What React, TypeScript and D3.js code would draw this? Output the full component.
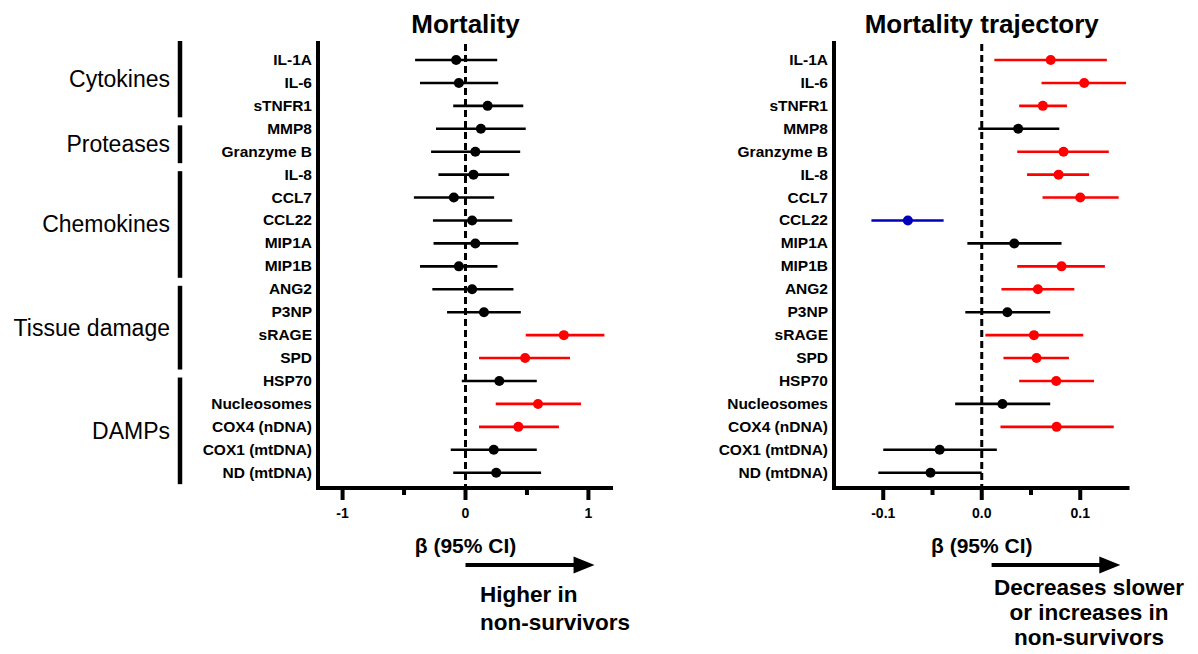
import React, { useEffect } from "react";
import * as d3 from "d3";

// biomarkers, top to bottom
const markers = [
  "IL-1A", "IL-6", "sTNFR1", "MMP8", "Granzyme B", "IL-8", "CCL7", "CCL22",
  "MIP1A", "MIP1B", "ANG2", "P3NP", "sRAGE", "SPD", "HSP70", "Nucleosomes",
  "COX4 (nDNA)", "COX1 (mtDNA)", "ND (mtDNA)",
];

// groups: label, first marker, last marker
const groupNames = ["Cytokines", "Proteases", "Chemokines", "Tissue damage", "DAMPs"];
const groupFirst = ["IL-1A", "MMP8", "IL-8", "ANG2", "HSP70"];
const groupLast = ["sTNFR1", "Granzyme B", "MIP1B", "SPD", "ND (mtDNA)"];

// Mortality: beta and 95% CI
const mortEst = [-0.076, -0.054, 0.18, 0.125, 0.08, 0.065, -0.095, 0.054, 0.08, -0.054, 0.054, 0.15, 0.8, 0.485, 0.275, 0.59, 0.43, 0.23, 0.25];
const mortLo = [-0.41, -0.37, -0.1, -0.24, -0.28, -0.22, -0.42, -0.265, -0.26, -0.37, -0.27, -0.15, 0.49, 0.11, -0.03, 0.246, 0.11, -0.12, -0.1];
const mortHi = [0.258, 0.266, 0.47, 0.49, 0.445, 0.355, 0.233, 0.38, 0.43, 0.26, 0.39, 0.45, 1.13, 0.85, 0.58, 0.94, 0.76, 0.58, 0.615];
const mortSig = ["ns", "ns", "ns", "ns", "ns", "ns", "ns", "ns", "ns", "ns", "ns", "ns", "up", "up", "ns", "up", "up", "ns", "ns"];

// Mortality trajectory: beta and 95% CI
const trajEst = [0.07, 0.104, 0.062, 0.037, 0.083, 0.078, 0.1, -0.075, 0.033, 0.081, 0.057, 0.026, 0.053, 0.0556, 0.0756, 0.021, 0.076, -0.0427, -0.052];
const trajLo = [0.0128, 0.0607, 0.038, -0.0035, 0.036, 0.046, 0.0617, -0.112, -0.0146, 0.036, 0.02, -0.0167, 0.0037, 0.022, 0.038, -0.027, 0.019, -0.1, -0.105];
const trajHi = [0.127, 0.1465, 0.0865, 0.0787, 0.129, 0.109, 0.139, -0.0387, 0.081, 0.125, 0.094, 0.0695, 0.103, 0.0885, 0.114, 0.0695, 0.134, 0.0153, 0.0];
const trajSig = ["up", "up", "up", "ns", "up", "up", "up", "down", "ns", "up", "up", "ns", "up", "up", "up", "ns", "up", "ns", "ns"];

const sigColor: Record<string, string> = { ns: "#000000", up: "#ff0000", down: "#0000bb" };

const FONT = "'Liberation Sans', Arial, sans-serif";
const AXIS_Y = 488;
const TOP_Y = 41;

const y = d3.scalePoint<string>().domain(markers).range([60, 472.7]);
const fmtTick = (f: string) => (v: number) => d3.format(f)(v).replace("\u2212", "-");

function Panel(props: any) {
  const { title, x, major, minor, fmt, est, lo, hi, sig, arrowFrom, arrowTo, note, noteX, noteAnchor, noteY } = props;
  const [x0, x1] = x.range();
  const mid = (x0 + x1) / 2;
  const arrowY = 565;
  const headLen = 21;
  return (
    <g>
      <text x={mid} y={33} textAnchor="middle" fontFamily={FONT} fontWeight="bold" fontSize={26}>
        {title}
      </text>
      {/* marker labels */}
      {markers.map((m) => (
        <text key={m} x={x0 - 6} y={(y(m) as number) + 5} textAnchor="end" fontFamily={FONT} fontWeight="bold" fontSize={15.5}>
          {m}
        </text>
      ))}
      {/* zero line */}
      <line x1={x(0)} x2={x(0)} y1={44} y2={AXIS_Y} stroke="#000" strokeWidth={3} strokeDasharray="7,4" />
      {/* CI bars and points */}
      {markers.map((m, i) => (
        <g key={m}>
          <line x1={x(lo[i])} x2={x(hi[i])} y1={y(m)} y2={y(m)} stroke={sigColor[sig[i]]} strokeWidth={2.6} />
          <circle cx={x(est[i])} cy={y(m)} r={5} fill={sigColor[sig[i]]} />
        </g>
      ))}
      {/* axes */}
      <line x1={x0} x2={x0} y1={TOP_Y} y2={AXIS_Y + 2} stroke="#000" strokeWidth={4} />
      <line x1={x0 - 2} x2={x1} y1={AXIS_Y} y2={AXIS_Y} stroke="#000" strokeWidth={4} />
      {major.map((t: number) => (
        <g key={"M" + t}>
          <line x1={x(t)} x2={x(t)} y1={AXIS_Y} y2={AXIS_Y + 12} stroke="#000" strokeWidth={4} />
          <text x={x(t)} y={518} textAnchor="middle" fontFamily={FONT} fontWeight="bold" fontSize={14}>
            {fmt(t)}
          </text>
        </g>
      ))}
      {minor.map((t: number) => (
        <line key={"m" + t} x1={x(t)} x2={x(t)} y1={AXIS_Y} y2={AXIS_Y + 7} stroke="#000" strokeWidth={4} />
      ))}
      <text x={mid} y={553} textAnchor="middle" fontFamily={FONT} fontWeight="bold" fontSize={21}>
        β (95% CI)
      </text>
      {/* direction arrow */}
      <line x1={x(arrowFrom)} x2={x(arrowTo) - headLen + 2} y1={arrowY} y2={arrowY} stroke="#000" strokeWidth={4} />
      <path
        d={`M${x(arrowTo)},${arrowY} L${x(arrowTo) - headLen},${arrowY - 8.5} L${x(arrowTo) - headLen},${arrowY + 8.5} Z`}
        fill="#000"
      />
      {note.map((s: string, i: number) => (
        <text key={s} x={noteX} y={noteY[i]} textAnchor={noteAnchor} fontFamily={FONT} fontWeight="bold" fontSize={22.5}>
          {s}
        </text>
      ))}
    </g>
  );
}

export default function App() {
  useEffect(() => {
    document.body.style.margin = "0";
  }, []);

  const xMort = d3.scaleLinear().domain([-1.2, 1.2]).range([318, 613]);
  const xTraj = d3.scaleLinear().domain([-0.15, 0.15]).range([834, 1129.5]);
  const step = y.step();

  return (
    <svg width={1198} height={654} style={{ display: "block", background: "#fff" }}>
      {/* group brackets */}
      {groupNames.map((g, i) => {
        const top = i === 0 ? TOP_Y : (y(groupFirst[i]) as number) - step / 2 + 8;
        const bot = (y(groupLast[i]) as number) + step / 2;
        return (
          <g key={g}>
            <line x1={180} x2={180} y1={top} y2={bot} stroke="#000" strokeWidth={4.5} />
            <text x={170} y={(top + bot) / 2 + 8} textAnchor="end" fontFamily={FONT} fontSize={23}>
              {g}
            </text>
          </g>
        );
      })}
      <Panel
        title="Mortality"
        x={xMort}
        major={[-1, 0, 1]}
        minor={[-0.5, 0.5]}
        fmt={fmtTick("d")}
        est={mortEst}
        lo={mortLo}
        hi={mortHi}
        sig={mortSig}
        arrowFrom={0}
        arrowTo={1.05}
        note={["Higher in", "non-survivors"]}
        noteX={480}
        noteAnchor="start"
        noteY={[602, 630]}
      />
      <Panel
        title="Mortality trajectory"
        x={xTraj}
        major={[-0.1, 0, 0.1]}
        minor={[-0.05, 0.05]}
        fmt={fmtTick(".1f")}
        est={trajEst}
        lo={trajLo}
        hi={trajHi}
        sig={trajSig}
        arrowFrom={0.01}
        arrowTo={0.1407}
        note={["Decreases slower", "or increases in", "non-survivors"]}
        noteX={1089}
        noteAnchor="middle"
        noteY={[595, 620, 645]}
      />
    </svg>
  );
}
